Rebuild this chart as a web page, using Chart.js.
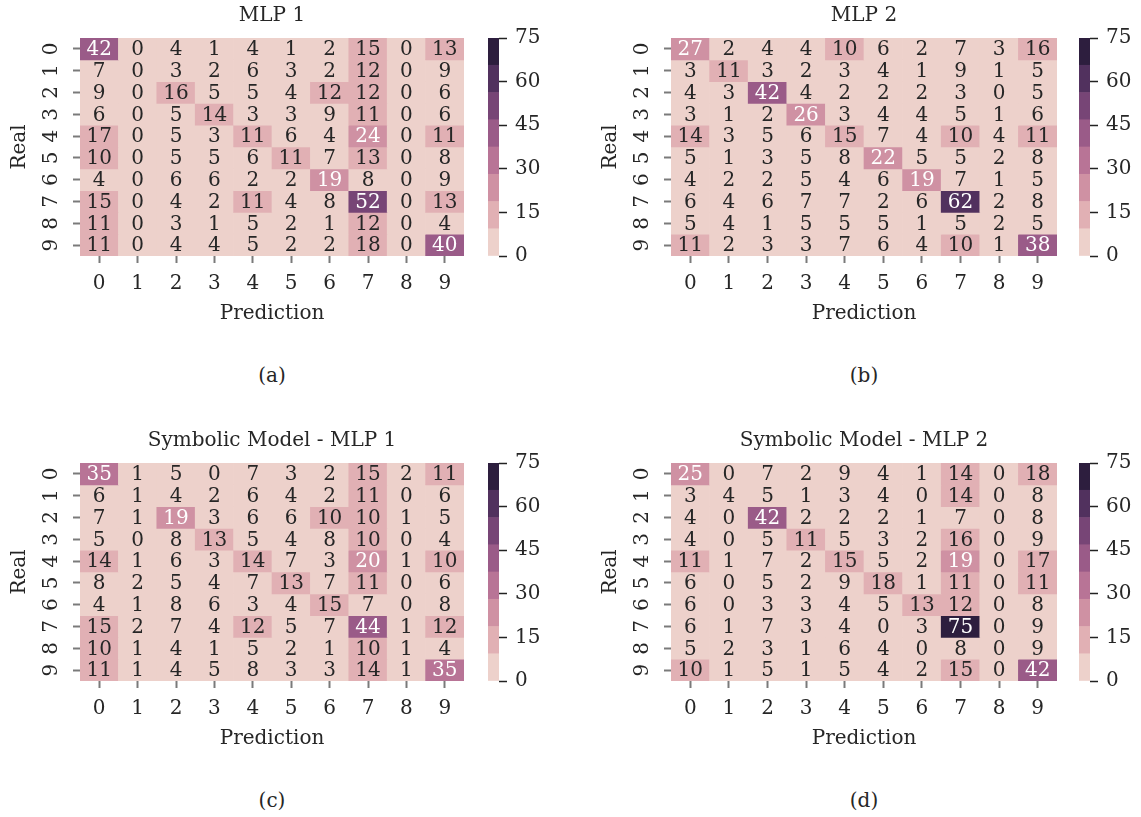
<!DOCTYPE html>
<html>
<head>
<meta charset="utf-8">
<script src="https://cdn.jsdelivr.net/npm/chart.js@4.4.1/dist/chart.umd.min.js"></script>
<style>
  body { margin: 0; background: #fff; }
  #page { position: relative; width: 1141px; height: 817px; overflow: hidden; font-family: "DejaVu Serif", serif; color: #262626; }
  canvas { position: absolute; }
  .cap { position: absolute; width: 60px; text-align: center; font-size: 20px; line-height: 24px; }
</style>
</head>
<body>
<div id="page">
  <canvas id="hmA" width="480" height="330" style="left:0px;top:0px"></canvas>
  <canvas id="cbA" width="80" height="300" style="left:480px;top:0px"></canvas>
  <canvas id="hmB" width="482" height="330" style="left:591px;top:0px"></canvas>
  <canvas id="cbB" width="70" height="300" style="left:1071px;top:0px"></canvas>
  <canvas id="hmC" width="480" height="330" style="left:0px;top:425px"></canvas>
  <canvas id="cbC" width="80" height="300" style="left:480px;top:425px"></canvas>
  <canvas id="hmD" width="482" height="330" style="left:591px;top:425px"></canvas>
  <canvas id="cbD" width="70" height="300" style="left:1071px;top:425px"></canvas>
  <div class="cap" style="left:242px;top:363px">(a)</div>
  <div class="cap" style="left:834px;top:363px">(b)</div>
  <div class="cap" style="left:242px;top:788px">(c)</div>
  <div class="cap" style="left:834px;top:788px">(d)</div>
</div>
<script>
// tick labels
const predLabels = ['0', '1', '2', '3', '4', '5', '6', '7', '8', '9']
const realLabels = ['0', '1', '2', '3', '4', '5', '6', '7', '8', '9']
const cbarMax = 75
const cbarStep = 15
const nBins = 8

// confusion matrices, rows = real, cols = prediction
const mlp1 = [
  [42, 0, 4, 1, 4, 1, 2, 15, 0, 13],
  [7, 0, 3, 2, 6, 3, 2, 12, 0, 9],
  [9, 0, 16, 5, 5, 4, 12, 12, 0, 6],
  [6, 0, 5, 14, 3, 3, 9, 11, 0, 6],
  [17, 0, 5, 3, 11, 6, 4, 24, 0, 11],
  [10, 0, 5, 5, 6, 11, 7, 13, 0, 8],
  [4, 0, 6, 6, 2, 2, 19, 8, 0, 9],
  [15, 0, 4, 2, 11, 4, 8, 52, 0, 13],
  [11, 0, 3, 1, 5, 2, 1, 12, 0, 4],
  [11, 0, 4, 4, 5, 2, 2, 18, 0, 40]
]
const mlp2 = [
  [27, 2, 4, 4, 10, 6, 2, 7, 3, 16],
  [3, 11, 3, 2, 3, 4, 1, 9, 1, 5],
  [4, 3, 42, 4, 2, 2, 2, 3, 0, 5],
  [3, 1, 2, 26, 3, 4, 4, 5, 1, 6],
  [14, 3, 5, 6, 15, 7, 4, 10, 4, 11],
  [5, 1, 3, 5, 8, 22, 5, 5, 2, 8],
  [4, 2, 2, 5, 4, 6, 19, 7, 1, 5],
  [6, 4, 6, 7, 7, 2, 6, 62, 2, 8],
  [5, 4, 1, 5, 5, 5, 1, 5, 2, 5],
  [11, 2, 3, 3, 7, 6, 4, 10, 1, 38]
]
const symMlp1 = [
  [35, 1, 5, 0, 7, 3, 2, 15, 2, 11],
  [6, 1, 4, 2, 6, 4, 2, 11, 0, 6],
  [7, 1, 19, 3, 6, 6, 10, 10, 1, 5],
  [5, 0, 8, 13, 5, 4, 8, 10, 0, 4],
  [14, 1, 6, 3, 14, 7, 3, 20, 1, 10],
  [8, 2, 5, 4, 7, 13, 7, 11, 0, 6],
  [4, 1, 8, 6, 3, 4, 15, 7, 0, 8],
  [15, 2, 7, 4, 12, 5, 7, 44, 1, 12],
  [10, 1, 4, 1, 5, 2, 1, 10, 1, 4],
  [11, 1, 4, 5, 8, 3, 3, 14, 1, 35]
]
const symMlp2 = [
  [25, 0, 7, 2, 9, 4, 1, 14, 0, 18],
  [3, 4, 5, 1, 3, 4, 0, 14, 0, 8],
  [4, 0, 42, 2, 2, 2, 1, 7, 0, 8],
  [4, 0, 5, 11, 5, 3, 2, 16, 0, 9],
  [11, 1, 7, 2, 15, 5, 2, 19, 0, 17],
  [6, 0, 5, 2, 9, 18, 1, 11, 0, 11],
  [6, 0, 3, 3, 4, 5, 13, 12, 0, 8],
  [6, 1, 7, 3, 4, 0, 3, 75, 0, 9],
  [5, 2, 3, 1, 6, 4, 0, 8, 0, 9],
  [10, 1, 5, 1, 5, 4, 2, 15, 0, 42]
]

const ink = '#262626'
const digitFont = { family: 'DejaVu Serif', size: 20 }
const wordFont = { family: 'DejaVu Serif', size: 20, weight: 'normal' }

// seaborn cubehelix_palette(8), light -> dark
function cubehelix(n) {
  const start = 0, rot = 0.4, hue = 0.8, light = 0.85, dark = 0.15
  const coefs = [[-0.14861, 1.78277], [-0.29227, -0.90649], [1.97294, 0]]
  let out = []
  for (let k = 0; k < n; k++) {
    const x = light + (dark - light) * k / (n - 1)
    const a = hue * x * (1 - x) / 2
    const phi = 2 * Math.PI * (start / 3 + rot * x)
    const rgb = coefs.map(([p0, p1]) => x + a * (p0 * Math.cos(phi) + p1 * Math.sin(phi)))
    out.push('rgb(' + rgb.map(v => Math.round(Math.min(1, Math.max(0, v)) * 255)).join(',') + ')')
  }
  return out
}
const palette = cubehelix(nBins)
const binOf = v => Math.min(nBins - 1, Math.floor(v / (cbarMax / nBins)))

// writes the count in the middle of every cell
const annotate = {
  id: 'annotate',
  afterDatasetsDraw(chart) {
    const ctx = chart.ctx
    ctx.save()
    ctx.font = digitFont.size + 'px "DejaVu Serif"'
    ctx.textAlign = 'center'
    ctx.textBaseline = 'middle'
    chart.data.datasets.forEach((ds, i) => {
      chart.getDatasetMeta(i).data.forEach((bar, j) => {
        const v = ds.counts[j]
        ctx.fillStyle = binOf(v) >= 2 ? '#ffffff' : ink
        ctx.fillText(String(v), bar.x, (bar.y + bar.base) / 2 + 1)
      })
    })
    ctx.restore()
  }
}

function heatmap(id, title, matrix) {
  // one stacked dataset per real class, each cell one unit tall
  const datasets = matrix.map(row => ({
    counts: row,
    data: row.map(() => 1),
    backgroundColor: row.map(v => palette[binOf(v)]),
    borderWidth: 0
  }))
  new Chart(document.getElementById(id), {
    type: 'bar',
    data: { labels: predLabels, datasets: datasets },
    plugins: [annotate],
    options: {
      responsive: false, animation: false, devicePixelRatio: 1,
      layout: { padding: { left: 0, right: 16, top: 0, bottom: 0 } },
      datasets: { bar: { barPercentage: 1, categoryPercentage: 1 } },
      plugins: {
        legend: { display: false },
        tooltip: { enabled: false },
        title: { display: true, text: title, font: wordFont, color: ink, fullSize: false, padding: { top: 4, bottom: 10 } }
      },
      scales: {
        x: {
          stacked: true,
          afterFit: s => { s.height = 74 },
          ticks: { font: digitFont, color: ink, padding: 9, maxRotation: 0 },
          grid: { offset: false, drawOnChartArea: false, tickLength: 7, tickColor: '#7a7a7a', tickWidth: 2 },
          border: { display: false },
          title: { display: true, text: 'Prediction', font: wordFont, color: ink, padding: { top: 0, bottom: 4 } }
        },
        y: {
          stacked: true, reverse: true, min: 0, max: realLabels.length,
          afterBuildTicks: s => { s.ticks = realLabels.map((_, i) => ({ value: i + 0.5 })) },
          afterFit: s => { s.width = 80 },
          ticks: { callback: v => realLabels[Math.floor(v)], font: digitFont, color: ink, minRotation: 90, maxRotation: 90, crossAlign: 'center', padding: 15 },
          grid: { drawOnChartArea: false, tickLength: 7, tickColor: '#7a7a7a', tickWidth: 2 },
          border: { display: false },
          title: { display: true, text: 'Real', font: wordFont, color: ink, padding: { top: 8, bottom: 0 } }
        }
      }
    }
  })
}

function colorbar(id, axisWidth) {
  new Chart(document.getElementById(id), {
    type: 'bar',
    data: {
      labels: [''],
      datasets: palette.map(c => ({ data: [cbarMax / nBins], backgroundColor: c, borderWidth: 0 }))
    },
    options: {
      responsive: false, animation: false, devicePixelRatio: 1,
      layout: { padding: { left: 8, right: 0, top: 38, bottom: 44 } },
      datasets: { bar: { barPercentage: 1, categoryPercentage: 1 } },
      plugins: { legend: { display: false }, tooltip: { enabled: false } },
      scales: {
        x: { display: false, stacked: true },
        y: {
          stacked: true, position: 'right', min: 0, max: cbarMax,
          afterFit: s => { s.width = axisWidth },
          ticks: { stepSize: cbarStep, font: digitFont, color: ink, padding: 8 },
          grid: { drawOnChartArea: false, tickLength: 8, tickColor: '#222', tickWidth: 1.5 },
          border: { display: false }
        }
      }
    }
  })
}

heatmap('hmA', 'MLP 1', mlp1)
heatmap('hmB', 'MLP 2', mlp2)
heatmap('hmC', 'Symbolic Model - MLP 1', symMlp1)
heatmap('hmD', 'Symbolic Model - MLP 2', symMlp2)
colorbar('cbA', 61)
colorbar('cbB', 51)
colorbar('cbC', 61)
colorbar('cbD', 51)
</script>
</body>
</html>
